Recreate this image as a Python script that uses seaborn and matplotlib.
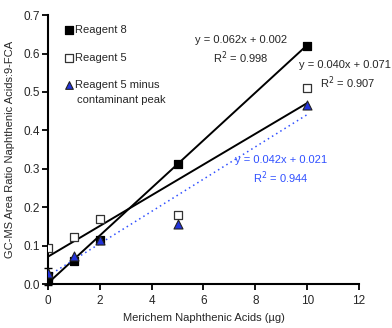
import numpy as np
import pandas as pd
import matplotlib
matplotlib.use("Agg")
import matplotlib.pyplot as plt
import seaborn as sns

# datos
x_amount = [0, 0, 1, 2, 5, 10]
reagent8 = [0.010, 0.020, 0.060, 0.115, 0.313, 0.620]
x_r5 = [0, 1, 2, 5, 10]
reagent5 = [0.093, 0.122, 0.168, 0.180, 0.510]
reagent5_minus = [0.030, 0.072, 0.115, 0.155, 0.467]

# ajustes lineales (pendiente, intercepto)
fit_r8 = (0.062, 0.002)
fit_r5 = (0.040, 0.071)
fit_r5m = (0.042, 0.021)

sns.set_style("ticks")
plt.rcParams['font.family'] = ['Liberation Sans', 'DejaVu Sans']

fs = 8
blue = "#3050ff"

fig = plt.figure(figsize=(3.92, 3.28), dpi=100)
ax = fig.add_axes([0.122, 0.134, 0.794, 0.820])

# lineas de tendencia
xs = np.array([0, 10])
ax.plot(xs, fit_r8[0] * xs + fit_r8[1], color="black", lw=1.4, zorder=2)
ax.plot(xs, fit_r5[0] * xs + fit_r5[1], color="black", lw=1.4, zorder=2)
ax.plot(xs, fit_r5m[0] * xs + fit_r5m[1], color=blue, lw=1.1, ls=(0, (1, 2.2)), zorder=2)

df8 = pd.DataFrame({"x": x_amount, "y": reagent8})
df5 = pd.DataFrame({"x": x_r5, "y": reagent5})
df5m = pd.DataFrame({"x": x_r5, "y": reagent5_minus})

sns.scatterplot(data=df5, x="x", y="y", marker="s", s=36, facecolor="white",
                edgecolor="#333333", linewidth=0.9, ax=ax, zorder=3, label="Reagent 5")
sns.scatterplot(data=df8, x="x", y="y", marker="s", s=36, color="black",
                edgecolor="black", linewidth=0.9, ax=ax, zorder=4, label="Reagent 8")
sns.scatterplot(data=df5m, x="x", y="y", marker="^", s=42, color="#2233dd",
                edgecolor="#222222", linewidth=0.8, ax=ax, zorder=5,
                label="Reagent 5 minus")

# barra de error en x=0
ax.errorbar([0], [0.02], yerr=[0.022], fmt="none", ecolor="black", elinewidth=1, capsize=3,
            zorder=4, clip_on=False)

h, l = ax.get_legend_handles_labels()
order = [1, 0, 2]
ax.legend([h[i] for i in order], [l[i] for i in order], loc="upper left",
          bbox_to_anchor=(0.022, 0.995), frameon=False, fontsize=fs, markerscale=0.85,
          labelspacing=1.55, handletextpad=0.05, handlelength=1.0, borderpad=0.3)
ax.text(0.0925, 0.683, "contaminant peak", transform=ax.transAxes, fontsize=fs,
        ha="left", va="center")

ax.text(7.45, 0.635, "y = 0.062x + 0.002", ha="center", va="center", fontsize=fs)
ax.text(7.45, 0.588, "R$^2$ = 0.998", ha="center", va="center", fontsize=fs)
ax.text(11.45, 0.570, "y = 0.040x + 0.071", ha="center", va="center", fontsize=fs)
ax.text(11.55, 0.523, "R$^2$ = 0.907", ha="center", va="center", fontsize=fs)
ax.text(9.0, 0.322, "y = 0.042x + 0.021", ha="center", va="center", fontsize=fs, color=blue)
ax.text(9.0, 0.276, "R$^2$ = 0.944", ha="center", va="center", fontsize=fs, color=blue)

ax.set_xlim(0, 12)
ax.set_ylim(0, 0.7)
ax.set_xticks(np.arange(0, 13, 2))
ax.set_yticks(np.arange(0, 0.71, 0.1))
ax.set_yticklabels([f"{v:.1f}" for v in np.arange(0, 0.71, 0.1)])
ax.tick_params(labelsize=8.5, length=4, width=1.3, color="black")
ax.tick_params(axis="y", pad=1.5)
ax.tick_params(axis="x", pad=4)
for side in ["left", "bottom"]:
    ax.spines[side].set_linewidth(1.5)
    ax.spines[side].set_color("black")
sns.despine(ax=ax)
ax.set_xlabel("Merichem Naphthenic Acids (µg)", fontsize=fs, labelpad=4)
ax.set_ylabel("GC-MS Area Ratio Naphthenic Acids:9-FCA", fontsize=fs, labelpad=6)

fig.savefig("out.png", dpi=100)
